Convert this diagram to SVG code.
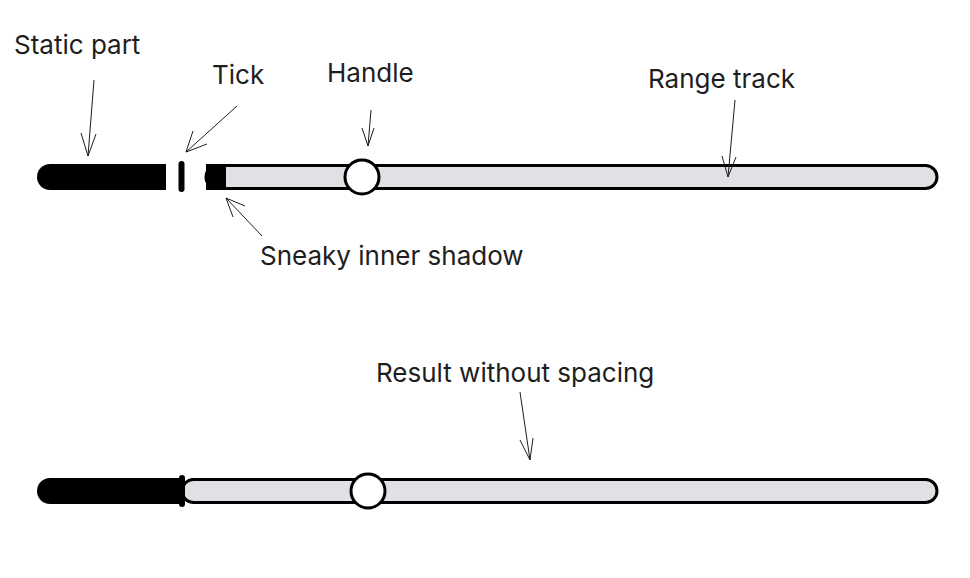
<svg xmlns="http://www.w3.org/2000/svg" width="970" height="578" viewBox="0 0 970 578">
<style>
text{font-family:Inter,"Noto Sans",sans-serif;font-size:26px;fill:#1e1e1e}
.a{stroke:#1e1e1e;stroke-width:1;fill:none}
.trk{fill:#e0e1e4;stroke:#000;stroke-width:3}
</style>
<rect width="970" height="578" fill="#fff"/>
<g id="track1">
<rect class="trk" x="206" y="165.5" width="731" height="23" rx="11.5"/>
<rect x="206" y="164" width="20" height="26" fill="#000"/>
</g>
<g id="static1"><path d="M50,164 H166 V190 H50 A13,13 0 0 1 50,164 Z" fill="#000"/></g>
<g id="tick1"><rect x="178.5" y="161" width="6" height="31" rx="3" fill="#000"/></g>
<g id="handle1"><circle cx="362" cy="177" r="17" fill="#fff" stroke="#000" stroke-width="3"/></g>
<g id="track2"><rect class="trk" x="182" y="479.5" width="755" height="23" rx="11.5"/></g>
<g id="static2"><path d="M50,478 H182 V504 H50 A13,13 0 0 1 50,478 Z" fill="#000"/></g>
<g id="tick2"><rect x="179" y="475" width="6" height="32" rx="3" fill="#000"/></g>
<g id="handle2"><circle cx="368" cy="491" r="17" fill="#fff" stroke="#000" stroke-width="3"/></g>
<g id="labels">
<text x="14" y="54">Static part</text>
<text x="212" y="84">Tick</text>
<text x="327" y="82">Handle</text>
<text x="648" y="88">Range track</text>
<text x="260" y="265">Sneaky inner shadow</text>
<text x="376" y="382">Result without spacing</text>
</g>
<g id="connectors" class="a">
<path d="M94,80 L88,156 M81,133 L88,156 L96,134"/>
<path d="M237,106 L186,152 M193,131 L186,152 L207,144"/>
<path d="M371,110 L368,146 M362,128 L368,146 L374,128"/>
<path d="M735,100 L728,177 M722,156 L728,177 L736,157"/>
<path d="M262,236 L226,198 M233,217 L226,198 L245,206"/>
<path d="M520,392 L530,460 M520,440 L530,460 L533,438"/>
</g>
</svg>
